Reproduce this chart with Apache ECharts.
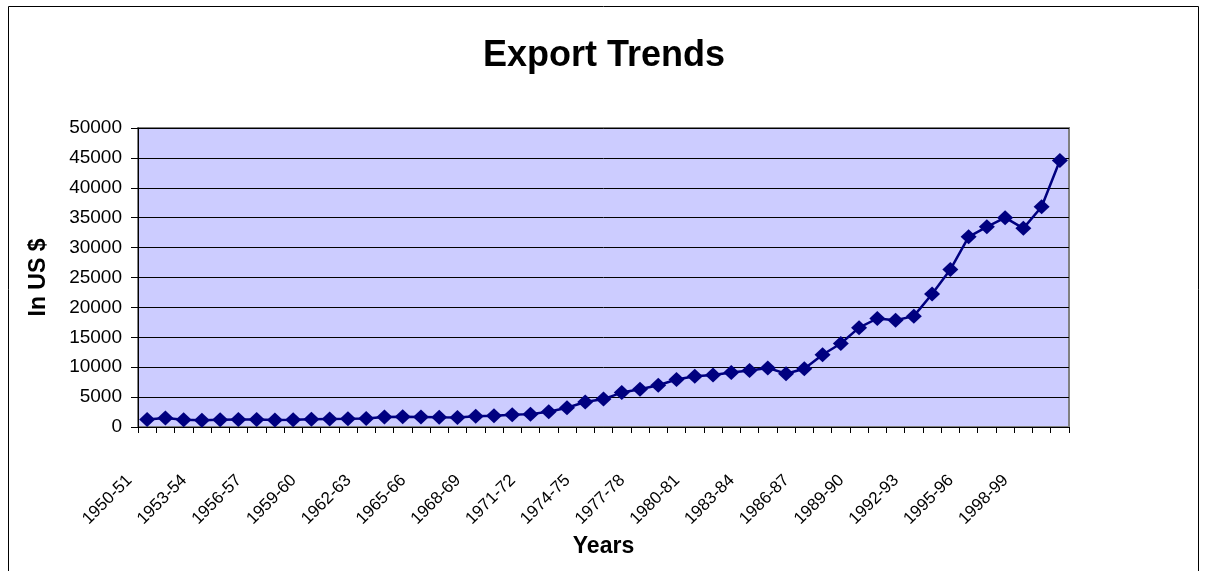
<!DOCTYPE html>
<html lang="en">
<head>
    <meta charset="UTF-8">
    <title>Export Trends</title>
    <style>
        *{
            margin: 0;
            padding: 0;
        }
        body,html{
            width: 100%;
            height: 100%;
            background: #fff;
        }
        #main{
            width: 1208px;
            height: 571px;
        }
    </style>
</head>
<body>

<div id="main"></div>

<script src="https://cdn.jsdelivr.net/npm/echarts@6/dist/echarts.min.js"></script>
<script type="text/javascript">
    // years on the x axis
    var years = ['1950-51', '1951-52', '1952-53', '1953-54', '1954-55', '1955-56', '1956-57', '1957-58',
        '1958-59', '1959-60', '1960-61', '1961-62', '1962-63', '1963-64', '1964-65', '1965-66',
        '1966-67', '1967-68', '1968-69', '1969-70', '1970-71', '1971-72', '1972-73', '1973-74',
        '1974-75', '1975-76', '1976-77', '1977-78', '1978-79', '1979-80', '1980-81', '1981-82',
        '1982-83', '1983-84', '1984-85', '1985-86', '1986-87', '1987-88', '1988-89', '1989-90',
        '1990-91', '1991-92', '1992-93', '1993-94', '1994-95', '1995-96', '1996-97', '1997-98',
        '1998-99', '1999-00', '2000-01'];

    // exports, US $
    var exportsUsd = [1269, 1490, 1212, 1110, 1230, 1275, 1259, 1171, 1221, 1308, 1346, 1381,
        1437, 1659, 1701, 1693, 1628, 1586, 1788, 1866, 2031, 2153, 2550, 3209, 4174, 4665,
        5753, 6316, 6978, 7947, 8486, 8704, 9107, 9449, 9878, 8904, 9745, 12089, 13970, 16612,
        18143, 17865, 18537, 22238, 26330, 31797, 33470, 35006, 33219, 36822, 44560];

    var yMin = 0, yMax = 50000, yStep = 5000;

    var myChart = echarts.init(document.getElementById('main'));

    var font = 'Liberation Sans, Arial, sans-serif';

    var option = {
        animation: false,
        backgroundColor: '#fff',
        title: {
            text: 'Export Trends',
            left: 'center',
            top: 33,
            textStyle: {fontFamily: font, fontSize: 36, fontWeight: 'bold', color: '#000'}
        },
        graphic: [{
            type: 'rect',
            shape: {x: 8.5, y: 6.5, width: 1190, height: 620},
            style: {fill: 'none', stroke: '#000', lineWidth: 1},
            silent: true
        }],
        grid: {
            left: 138,
            top: 128,
            width: 931,
            height: 299,
            show: true,
            backgroundColor: '#ccccff',
            borderColor: '#808080',
            borderWidth: 2
        },
        xAxis: {
            type: 'category',
            data: years,
            boundaryGap: true,
            name: 'Years',
            nameLocation: 'middle',
            nameGap: 106,
            nameTextStyle: {fontFamily: font, fontSize: 23, fontWeight: 'bold', color: '#000'},
            axisLine: {lineStyle: {color: '#000', width: 1}},
            axisTick: {show: true, interval: 0, length: 6, lineStyle: {color: '#000'}},
            axisLabel: {
                interval: 2,
                rotate: 45,
                margin: 33,
                padding: [0, 25, 0, 0],
                fontFamily: font,
                fontSize: 17,
                color: '#000'
            },
            splitLine: {show: false}
        },
        yAxis: {
            type: 'value',
            min: yMin,
            max: yMax,
            interval: yStep,
            name: 'In US $',
            nameLocation: 'middle',
            nameGap: 88,
            nameTextStyle: {fontFamily: font, fontSize: 23, fontWeight: 'bold', color: '#000'},
            axisLine: {show: true, lineStyle: {color: '#000', width: 1}},
            axisTick: {show: true, length: 7, lineStyle: {color: '#000'}},
            axisLabel: {
                margin: 16,
                fontFamily: font,
                fontSize: 19,
                color: '#000',
                formatter: function (v) { return String(v); }
            },
            splitLine: {show: true, lineStyle: {color: '#000', width: 1}}
        },
        series: [{
            name: 'Exports',
            type: 'line',
            data: exportsUsd,
            symbol: 'diamond',
            symbolSize: [16, 15],
            showAllSymbol: true,
            lineStyle: {color: '#000080', width: 2.5},
            itemStyle: {color: '#000080'}
        }]
    };

    myChart.setOption(option);
</script>
</body>
</html>
